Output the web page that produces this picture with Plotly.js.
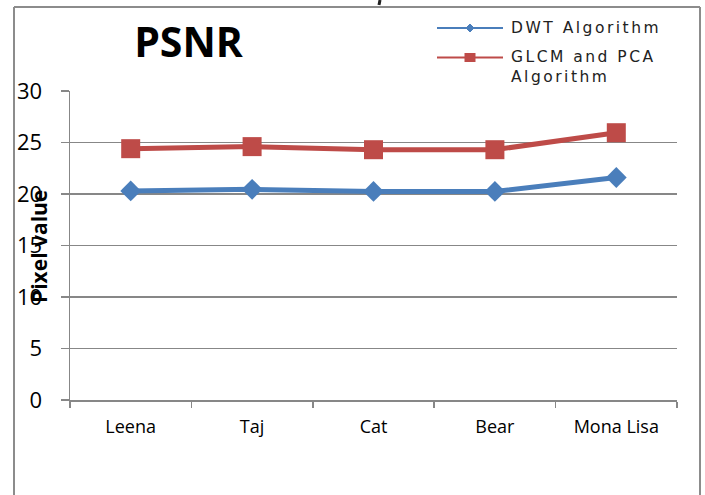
<!DOCTYPE html>
<html>
<head>
<meta charset="utf-8">
<script src="https://cdn.plot.ly/plotly-3.0.1.min.js"></script>
<style>
html,body{margin:0;padding:0;background:#fff;}
#chart{width:705px;height:495px;}
.annotation[data-index="0"] text, .annotation[data-index="1"] text {letter-spacing: 2.5px;}
</style>
</head>
<body>
<div id="chart"></div>
<script>
const categories = ['Leena', 'Taj', 'Cat', 'Bear', 'Mona Lisa'];
const dwtValues = [20.3, 20.45, 20.25, 20.25, 21.6];
const glcmPcaValues = [24.4, 24.6, 24.3, 24.3, 25.95];
const yTickValues = [0, 5, 10, 15, 20, 25, 30];
const seriesNames = ['DWT Algorithm', 'GLCM and PCA<br>Algorithm'];

const L = 70, R = 677, T = 91, B = 400;
const W = R - L, H = B - T;
const px = x => (x - L) / W;
const py = y => (B - y) / H;

const blue = '#4a7ebb', red = '#be4b48', grid = '#878787', frame = '#8c8c8c';

const traces = [
  {x: categories, y: dwtValues, type: 'scatter', mode: 'lines+markers', name: seriesNames[0],
   line: {color: blue, width: 5}, marker: {symbol: 'diamond', size: 16, color: blue}, showlegend: false},
  {x: categories, y: glcmPcaValues, type: 'scatter', mode: 'lines+markers', name: seriesNames[1],
   line: {color: red, width: 5}, marker: {symbol: 'square', size: 19, color: red}, showlegend: false}
];

const shapes = [
  {type: 'line', xref: 'paper', yref: 'paper', x0: px(14), x1: px(14), y0: py(7), y1: py(496), line: {color: frame, width: 2}},
  {type: 'line', xref: 'paper', yref: 'paper', x0: px(14), x1: px(700), y0: py(7), y1: py(7), line: {color: frame, width: 2}},
  {type: 'line', xref: 'paper', yref: 'paper', x0: px(700), x1: px(700), y0: py(7), y1: py(496), line: {color: frame, width: 2}},
  {type: 'line', xref: 'paper', yref: 'paper', x0: px(380), x1: px(379), y0: py(0), y1: py(5), line: {color: '#222', width: 3}},
  {type: 'line', xref: 'paper', yref: 'paper', x0: px(437), x1: px(503), y0: py(28), y1: py(28), line: {color: blue, width: 2}},
  {type: 'line', xref: 'paper', yref: 'paper', x0: px(437), x1: px(503), y0: py(57.5), y1: py(57.5), line: {color: red, width: 2}},
  {type: 'path', xref: 'paper', yref: 'paper',
   path: `M ${px(466)},${py(28)} L ${px(470)},${py(24)} L ${px(474)},${py(28)} L ${px(470)},${py(32)} Z`,
   fillcolor: blue, line: {color: blue, width: 1}},
  {type: 'rect', xref: 'paper', yref: 'paper', x0: px(464.5), x1: px(475.5), y0: py(53), y1: py(62),
   fillcolor: red, line: {color: red, width: 0}}
];

const annotations = [
  {text: seriesNames[0], xref: 'paper', yref: 'paper', x: px(509), y: py(28), xanchor: 'left', yanchor: 'middle',
   showarrow: false, align: 'left', font: {family: 'DejaVu Sans', size: 15.5, color: '#222'}},
  {text: seriesNames[1], xref: 'paper', yref: 'paper', x: px(509), y: py(67), xanchor: 'left', yanchor: 'middle',
   showarrow: false, align: 'left', font: {family: 'DejaVu Sans', size: 15.5, color: '#222'}},
  {text: '<b>Pixel value</b>', xref: 'paper', yref: 'paper', x: px(39), y: py(247), xanchor: 'center', yanchor: 'middle',
   textangle: -90, showarrow: false, font: {family: 'Open Sans', size: 21, color: '#000'}}
];

const layout = {
  width: 705, height: 495,
  margin: {l: L, r: 705 - R, t: T, b: 495 - B, pad: 0},
  paper_bgcolor: '#fff', plot_bgcolor: '#fff',
  title: {text: '<b>PSNR</b>', font: {family: 'Open Sans', size: 41, color: '#000'},
          xref: 'container', yref: 'container', x: 188.5 / 705, xanchor: 'center', y: 1 - 43 / 495, yanchor: 'middle'},
  xaxis: {type: 'category', range: [-0.5, 4.5], tickson: 'boundaries', ticks: 'outside', ticklen: 6, tickwidth: 1.5,
          tickcolor: grid, showline: true, linecolor: grid, linewidth: 1.5, showgrid: false, zeroline: false,
          tickfont: {family: 'Open Sans', size: 18, color: '#000'}, ticklabelstandoff: 10, fixedrange: true},
  yaxis: {range: [0, 30], tickmode: 'array', tickvals: yTickValues, ticks: 'outside', ticklen: 8, tickwidth: 1.5,
          tickcolor: grid, showline: true, linecolor: grid, linewidth: 1.5, showgrid: true, gridcolor: grid, gridwidth: 1.5,
          zeroline: false, tickfont: {family: 'Open Sans', size: 22, color: '#000'}, ticklabelstandoff: 14, fixedrange: true},
  showlegend: false,
  shapes: shapes,
  annotations: annotations
};

Plotly.newPlot('chart', traces, layout, {displayModeBar: false, staticPlot: true});
</script>
</body>
</html>
